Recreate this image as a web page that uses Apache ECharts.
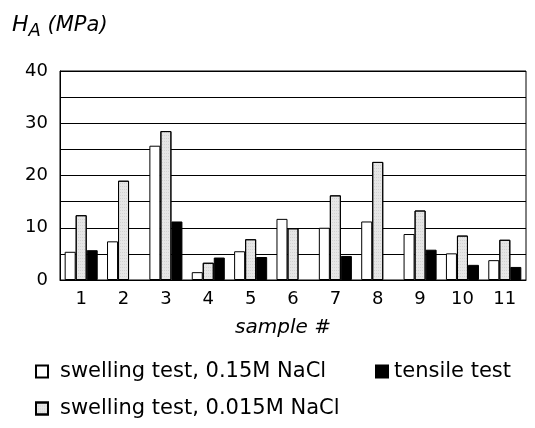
<!DOCTYPE html>
<html>
<head>
<meta charset="utf-8">
<script src="https://cdn.jsdelivr.net/npm/echarts@6/dist/echarts.min.js"></script>
<style>
  html, body { margin: 0; padding: 0; background: #fff; }
  #main { width: 535px; height: 428px; }
</style>
</head>
<body>
<div id="main"></div>
<script>
// sample numbers along x
var samples = ['1', '2', '3', '4', '5', '6', '7', '8', '9', '10', '11'];
// H_A in MPa
var swelling015 = [5.4, 7.4, 25.7, 1.5, 5.5, 11.7, 10.0, 11.2, 8.8, 5.1, 3.8];
var swelling0015 = [12.4, 19.0, 28.5, 3.3, 7.8, 9.9, 16.2, 22.6, 13.3, 8.5, 7.7];
var tensile = [5.7, null, 11.2, 4.3, 4.4, null, 4.6, null, 5.8, 2.9, 2.5];

var font = '"DejaVu Sans", sans-serif';
var chart = echarts.init(document.getElementById('main'));

var legendStyle = { fontFamily: font, fontSize: 21, color: '#000', padding: [0, 0, 0, 7] };

var options = {
  backgroundColor: '#fff',
  animation: false,
  title: {
    text: '{h|H}{a|A}{u| (MPa)}',
    left: 12,
    top: 14,
    padding: 0,
    textStyle: {
      fontSize: 21,
      rich: {
        h: { fontFamily: font, fontStyle: 'italic', fontWeight: 'normal', fontSize: 22, color: '#000', verticalAlign: 'top' },
        a: { fontFamily: font, fontStyle: 'italic', fontWeight: 'normal', fontSize: 18, color: '#000', verticalAlign: 'top', padding: [8, 0, 0, 0] },
        u: { fontFamily: font, fontStyle: 'italic', fontWeight: 'normal', fontSize: 21, color: '#000', verticalAlign: 'top', padding: [1, 0, 0, 0] }
      }
    }
  },
  legend: [
    { data: ['swelling test, 0.15M NaCl'], icon: 'rect', left: 35, top: 361, padding: 0, itemWidth: 12, itemHeight: 12, textStyle: legendStyle },
    { data: ['tensile test'], icon: 'rect', left: 375, top: 361, padding: 0, itemWidth: 12, itemHeight: 12, textStyle: { fontFamily: font, fontSize: 21, color: '#000', padding: [0, 0, 0, 1] } },
    { data: ['swelling test, 0.015M NaCl'], icon: 'rect', left: 35, top: 398, padding: 0, itemWidth: 12, itemHeight: 12, textStyle: legendStyle }
  ],
  grid: {
    left: 60, right: 9, top: 71, bottom: 148,
    show: true, borderColor: '#000', borderWidth: 1
  },
  xAxis: {
    type: 'category',
    data: samples,
    name: 'sample #',
    nameLocation: 'middle',
    nameGap: 38,
    nameTextStyle: { fontFamily: font, fontStyle: 'italic', fontSize: 20, color: '#000', padding: [0, 20, 0, 0] },
    axisLine: { lineStyle: { color: '#000' } },
    axisTick: { show: false },
    axisLabel: { fontFamily: font, fontSize: 18, color: '#000', margin: 10 }
  },
  yAxis: {
    type: 'value',
    min: 0, max: 40, interval: 5,
    axisLine: { show: true, lineStyle: { color: '#000' } },
    axisTick: { show: false },
    axisLabel: {
      fontFamily: font, fontSize: 18, color: '#000', margin: 12,
      formatter: function (v) { return v % 10 === 0 ? String(v) : ''; }
    },
    splitLine: { lineStyle: { color: '#000', width: 1 } }
  },
  series: [
    {
      name: 'swelling test, 0.15M NaCl', type: 'bar', data: swelling015,
      barGap: '0%', barCategoryGap: '22%',
      itemStyle: { color: '#fff', borderColor: '#000', borderWidth: 1 }
    },
    {
      name: 'swelling test, 0.015M NaCl', type: 'bar', data: swelling0015,
      itemStyle: {
        color: '#e6e6e6', borderColor: '#000', borderWidth: 1,
        decal: { symbol: 'rect', symbolSize: 0.6, dashArrayX: [1, 1], dashArrayY: [1, 2], color: 'rgba(110,110,110,0.55)' }
      }
    },
    {
      name: 'tensile test', type: 'bar', data: tensile,
      itemStyle: { color: '#000', borderColor: '#000', borderWidth: 1 }
    }
  ]
};

chart.setOption(options);
</script>
</body>
</html>
